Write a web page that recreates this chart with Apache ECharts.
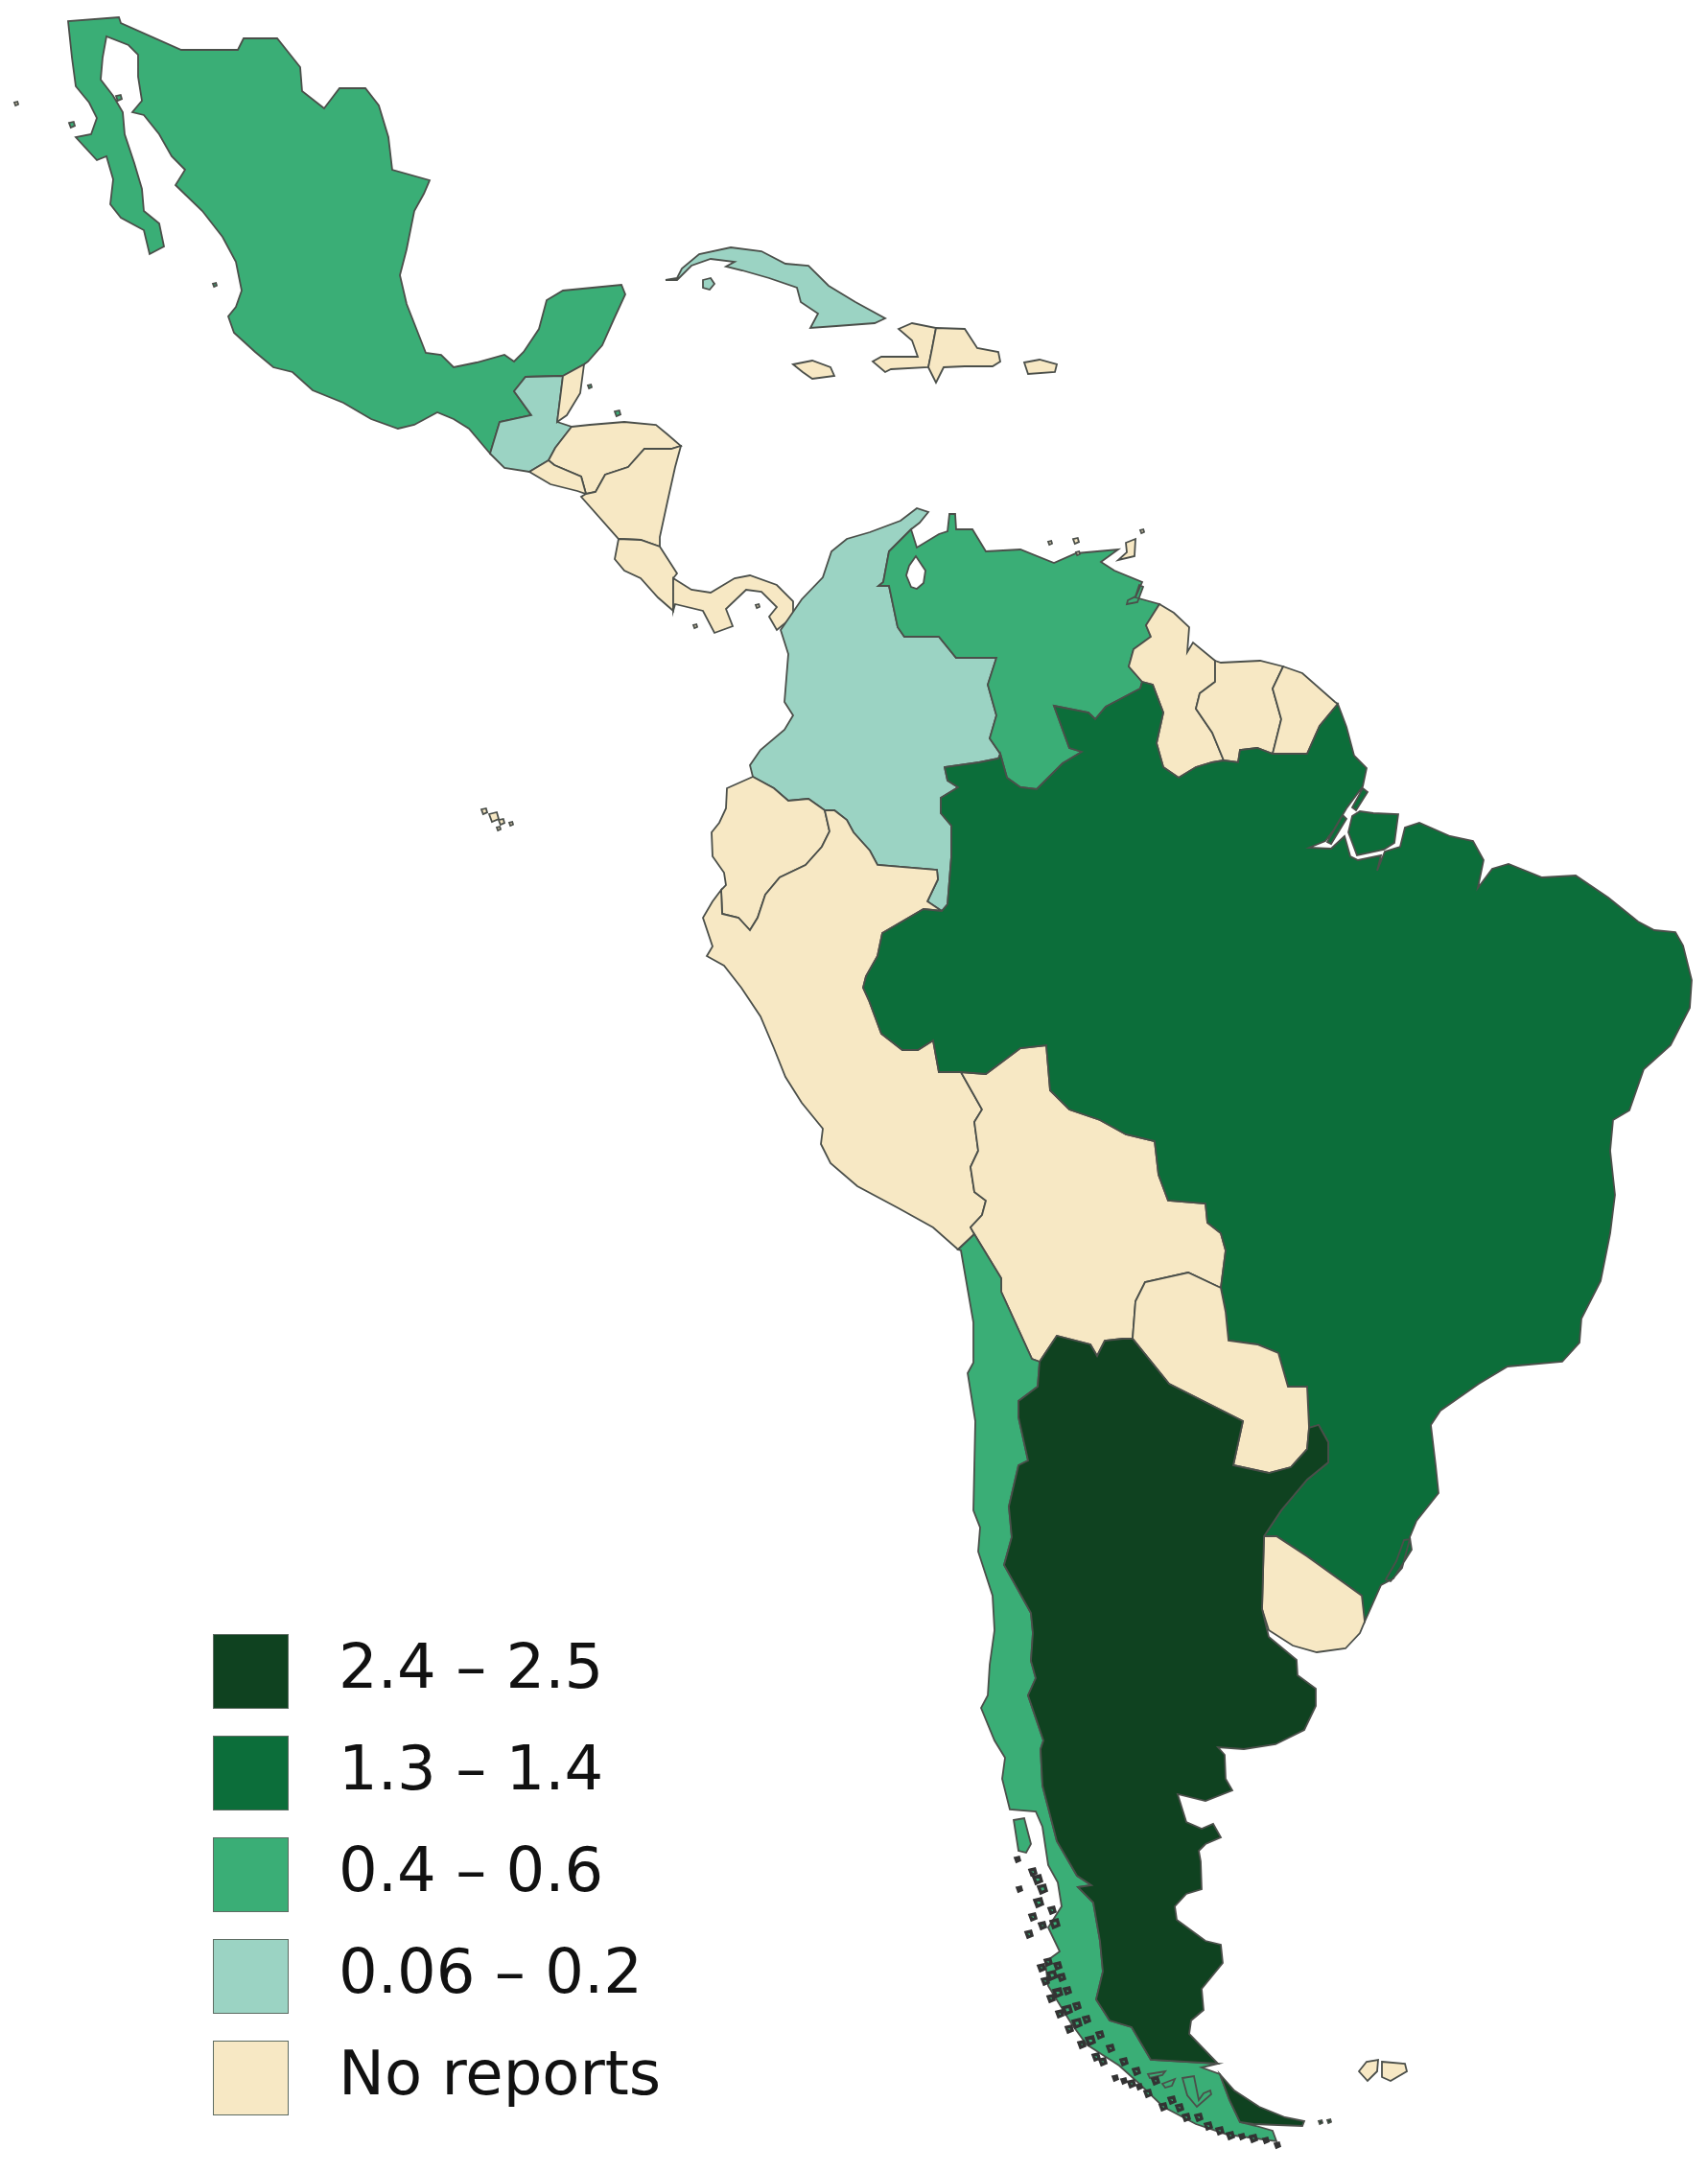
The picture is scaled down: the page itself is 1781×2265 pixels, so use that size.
<!DOCTYPE html>
<html>
<head>
<meta charset="utf-8">
<title>Latin America map</title>
<script src="https://cdn.jsdelivr.net/npm/echarts@6/dist/echarts.min.js"></script>
<style>
	html, body { margin: 0; padding: 0; background: #fff; }
	#js-map { width: 1781px; height: 2265px; }
</style>
</head>
<body>
<div id="js-map"></div>
<script>
// class of each country, read from the map colours (mid value of its legend class, -1 = no reports)
var countries = ['Mexico','Guatemala','Belize','Honduras','El Salvador','Nicaragua','Costa Rica','Panama','Cuba','Haiti','Dominican Republic','Jamaica','Puerto Rico','Colombia','Venezuela','Guyana','Suriname','French Guiana','Ecuador','Peru','Bolivia','Brazil','Paraguay','Uruguay','Chile','Argentina','Islands','Chilean islets'];
var values = [0.5,0.1,-1,-1,-1,-1,-1,-1,0.1,-1,-1,-1,-1,0.1,0.5,-1,-1,-1,-1,-1,-1,1.35,-1,-1,0.5,2.45,-1,0.5];

var legendLabels = ['No reports','0.06 – 0.2','0.4 – 0.6','1.3 – 1.4','2.4 – 2.5'];
var legendMin = [-2,0.06,0.4,1.3,2.4];
var legendMax = [0,0.2,0.6,1.4,2.5];
var legendColors = ['#f7e8c4','#9bd3c3','#3aae76','#0c6e3a','#0f4220'];

// outlines, in reference pixels. borders shared by two countries are kept once
var mexCoast = [[511,473],[489,447],[473,437],[456,430],[432,443],[415,447],[387,437],[358,420],[326,407],[305,388],[285,383],[266,367],[244,347],[238,330],[246,320],[252,303],[246,273],[232,247],[211,220],[183,193],[193,177],[179,163],[166,140],[150,120],[138,117],[148,105],[144,80],[144,57],[134,47],[111,38],[107,60],[105,83],[118,100],[128,117],[130,140],[140,170],[148,197],[150,220],[166,233],[171,257],[156,265],[150,240],[126,227],[115,213],[118,187],[111,163],[101,167],[79,143],[95,140],[101,123],[93,107],[79,90],[75,60],[71,22],[124,18],[126,24],[189,52],[248,52],[254,40],[289,40],[313,70],[315,95],[338,113],[354,92],[381,92],[395,110],[405,143],[409,177],[448,188],[442,202],[432,220],[424,260],[417,287],[424,317],[444,368],[460,370],[473,383],[497,378],[526,370],[536,377],[546,367],[562,343],[570,313],[587,303],[648,297],[652,307],[640,333],[628,360],[613,377],[609,380]];
var bMexBel = [[609,380],[587,392]];
var bMexGua = [[587,392],[548,393],[536,408],[554,433],[521,440],[511,473]];
var gtmCoast = [[511,473],[526,488],[552,492]];
var bGuaSlv = [[552,492],[572,480]];
var bGuaHnd = [[572,480],[579,467],[596,445]];
var bGuaBel = [[596,445],[581,440],[587,392]];
var belCoast = [[581,440],[591,433],[605,410],[609,380]];
var hndCoast = [[596,445],[615,443],[651,440],[684,443],[696,453],[710,465]];
var bHndNic = [[710,465],[700,468],[672,468],[655,487],[631,495],[621,513],[611,515]];
var bHndSlv = [[611,515],[606,497],[578,485],[572,480]];
var slvCoast = [[552,492],[574,505],[602,512],[611,515]];
var nicCoast = [[710,465],[704,487],[696,523],[688,560],[688,570]];
var bNicCri = [[688,570],[668,563],[645,562]];
var nicPacific = [[645,562],[606,518],[611,515]];
var criPacific = [[645,562],[641,583],[651,595],[668,603],[686,623],[702,637]];
var bCriPan = [[702,637],[702,603]];
var criCaribbean = [[702,603],[706,598],[688,570]];
var panCoast = [[702,603],[721,615],[741,618],[766,603],[782,600],[810,610],[827,627],[827,643],[810,657],[802,643],[810,633],[794,617],[778,615],[757,635],[764,653],[745,660],[733,637],[704,630],[702,637]];

var colCoast = [[814,657],[836,625],[858,602],[867,575],[883,562],[907,555],[939,543],[956,530],[968,534],[959,545],[950,552]];
var bColVen = [[950,552],[927,575],[921,607],[916,611],[927,611],[936,654],[943,664],[979,664],[997,686],[1039,686],[1030,714],[1039,746],[1032,770],[1043,786]];
var bColBra = [[1043,786],[1041,791],[1021,795],[985,800],[988,814],[999,821],[981,832],[981,848],[992,861],[992,893],[988,943]];
var bColPer = [[988,943],[982,950],[967,940],[978,917],[977,907],[915,902],[907,887],[890,868],[883,855],[870,845],[860,845]];
var bColEcu = [[860,845],[843,833],[822,835],[807,822],[785,810]];
var colPacific = [[785,810],[782,798],[793,782],[818,761],[827,746],[818,732],[822,682],[814,657]];
var venCoast = [[950,552],[956,571],[979,557],[988,554],[990,536],[996,536],[997,552],[1014,552],[1028,575],[1064,573],[1099,587],[1122,577],[1166,573],[1148,586],[1162,595],[1191,607],[1184,623],[1209,630]];
var bVenGuy = [[1209,630],[1195,652],[1200,664],[1182,677],[1177,695],[1191,711]];
var bVenBra = [[1191,711],[1189,718],[1153,737],[1142,750],[1135,743],[1099,736],[1115,780],[1128,784],[1108,796],[1081,823],[1064,821],[1050,811],[1043,786]];
var lakeMaracaibo = [[955,580],[948,590],[945,600],[950,612],[956,614],[963,608],[965,595]];
var guyCoast = [[1209,630],[1224,639],[1240,654],[1238,680],[1244,670],[1267,689]];
var bGuySur = [[1267,689],[1267,711],[1251,723],[1247,739],[1264,764],[1276,793]];
var bGuyBra = [[1276,793],[1264,795],[1247,800],[1229,811],[1213,800],[1206,775],[1213,743],[1202,714],[1191,711]];
var surCoast = [[1267,689],[1273,691],[1314,689],[1338,695]];
var bSurFgu = [[1338,695],[1327,718],[1336,750],[1327,786]];
var bSurBra = [[1327,786],[1311,780],[1293,782],[1291,795],[1276,793]];
var fguCoast = [[1338,695],[1358,702],[1392,732],[1395,734]];
var bFguBra = [[1395,734],[1376,757],[1363,786],[1327,786]];

var ecuCoast = [[785,810],[758,822],[757,843],[750,858],[742,868],[743,893],[755,910],[757,923],[752,928]];
var bEcuPer = [[752,928],[753,953],[770,957],[782,970],[790,957],[798,933],[813,915],[840,902],[857,883],[865,867],[860,845]];
var perCoast = [[752,928],[743,940],[733,957],[743,987],[737,997],[755,1007],[773,1030],[793,1060],[807,1093],[819,1123],[836,1150],[858,1177],[856,1193],[866,1213],[894,1237],[937,1260],[973,1280],[999,1303]];
var bPerChl = [[999,1303],[1016,1287]];
var bPerBol = [[1016,1287],[1012,1280],[1024,1267],[1028,1252],[1016,1243],[1012,1217],[1020,1200],[1016,1170],[1024,1157],[1002,1118]];
var bPerBra = [[1002,1118],[979,1118],[973,1085],[957,1095],[941,1095],[919,1078],[906,1043],[900,1030],[903,1018],[915,997],[920,973],[963,948],[982,950]];
var bBolBra = [[1002,1118],[1028,1120],[1064,1093],[1091,1090],[1095,1137],[1115,1157],[1147,1168],[1174,1183],[1204,1190],[1208,1225],[1218,1252],[1257,1255],[1259,1275],[1273,1286],[1278,1304],[1273,1343]];
var bBolPar = [[1273,1343],[1239,1327],[1194,1337],[1184,1357],[1181,1396]];
var bBolArg = [[1181,1396],[1171,1396],[1152,1398],[1144,1414],[1137,1402],[1102,1393],[1084,1420]];
var bBolChl = [[1084,1420],[1076,1417],[1044,1347],[1044,1333],[1016,1287]];
var bParBra = [[1273,1343],[1278,1368],[1281,1398],[1311,1402],[1333,1411],[1343,1446],[1363,1446],[1365,1489]];
var bParArg = [[1365,1489],[1363,1511],[1346,1530],[1323,1536],[1286,1528],[1296,1482],[1219,1443],[1181,1396]];
var bArgBra = [[1365,1489],[1375,1486],[1385,1504],[1385,1525],[1363,1543],[1336,1575],[1318,1602]];
var bUryBra = [[1318,1602],[1331,1602],[1363,1623],[1420,1664],[1423,1691]];
var uryCoast = [[1423,1691],[1418,1703],[1403,1719],[1373,1723],[1348,1716],[1323,1700],[1316,1678],[1318,1602]];
var braNorth = [[1395,734],[1404,758],[1412,788],[1425,801],[1421,820],[1404,843],[1391,865],[1382,877],[1365,884],[1388,885],[1402,872],[1408,893],[1416,897],[1440,892],[1436,908],[1444,888],[1460,883],[1465,863],[1480,858],[1512,872],[1536,877],[1547,897],[1541,926],[1556,906],[1573,901],[1608,915],[1643,913],[1677,936],[1708,961],[1725,970],[1747,972],[1755,986],[1764,1022],[1762,1051],[1742,1090],[1714,1115],[1699,1158],[1682,1168],[1679,1200],[1684,1246],[1679,1286],[1669,1336],[1649,1375],[1647,1400],[1629,1420],[1572,1425],[1542,1443],[1502,1471],[1492,1486],[1497,1528],[1500,1557],[1477,1586],[1470,1603],[1472,1616],[1453,1646],[1440,1653],[1423,1691]];
var marajo = [[1410,851],[1418,846],[1432,848],[1458,849],[1454,879],[1443,886],[1415,892],[1406,868]];
var dosPatos = [[1464,1606],[1470,1605],[1462,1635],[1450,1649],[1445,1647],[1456,1628]];

var bChlArg = [[1084,1420],[1082,1446],[1062,1461],[1062,1478],[1072,1523],[1062,1528],[1052,1571],[1055,1603],[1047,1632],[1075,1682],[1077,1703],[1075,1732],[1080,1750],[1072,1768],[1088,1815],[1085,1824],[1087,1862],[1102,1920],[1123,1956],[1138,1966],[1124,1968],[1140,1984],[1147,2024],[1150,2056],[1143,2085],[1157,2107],[1180,2114],[1200,2148],[1270,2152]];
var chlSouth = [[1270,2152],[1253,2156],[1272,2163],[1282,2190],[1293,2213],[1310,2217],[1327,2222],[1331,2233],[1280,2226],[1247,2215],[1213,2197],[1187,2172],[1167,2154],[1133,2132],[1117,2110],[1093,2071],[1090,2046],[1105,2035],[1093,2010],[1107,1988],[1103,1963],[1093,1945],[1087,1905],[1080,1889],[1053,1887],[1045,1855],[1048,1833],[1037,1815],[1023,1781],[1030,1768],[1032,1736],[1037,1700],[1035,1664],[1020,1618],[1022,1593],[1015,1575],[1017,1482],[1009,1432],[1015,1421],[1015,1379],[1002,1304],[999,1303]];
var fjord1 = [[1233,2167],[1245,2165],[1250,2190],[1255,2183],[1262,2180],[1263,2184],[1248,2197],[1238,2185]];
var fjord2 = [[1212,2173],[1225,2168],[1222,2175],[1215,2177]];
var fjord3 = [[1197,2163],[1215,2160],[1212,2164],[1199,2167]];
var chiloe = [[1057,1898],[1068,1896],[1075,1923],[1070,1932],[1062,1930]];
var argAtlantic = [[1270,2152],[1240,2121],[1242,2107],[1255,2096],[1253,2074],[1275,2047],[1273,2028],[1257,2024],[1227,2002],[1225,1988],[1237,1975],[1253,1970],[1252,1941],[1250,1930],[1257,1923],[1273,1916],[1265,1902],[1253,1907],[1237,1900],[1228,1871],[1257,1878],[1285,1867],[1278,1855],[1277,1830],[1270,1822],[1297,1824],[1330,1819],[1360,1804],[1372,1779],[1372,1761],[1353,1747],[1352,1731],[1323,1707],[1316,1678],[1318,1602]];
var argFuego = [[1272,2163],[1287,2180],[1313,2197],[1340,2208],[1360,2212],[1358,2217],[1307,2215],[1293,2213],[1282,2190]];

var cuba = [[694,292],[706,290],[711,280],[729,265],[762,258],[794,262],[819,275],[843,277],[864,298],[892,315],[923,332],[912,337],[872,340],[845,342],[853,327],[835,315],[831,300],[802,290],[774,282],[757,278],[766,273],[741,270],[721,277],[706,292]];
var isleOfYouth = [[733,292],[741,290],[745,296],[740,302],[733,300]];
var haiti = [[937,343],[951,337],[976,342],[972,363],[968,383],[929,385],[923,388],[910,377],[919,372],[957,372],[951,355]];
var dominican = [[976,342],[1006,343],[1019,363],[1041,367],[1043,377],[1035,382],[1006,382],[984,383],[976,399],[968,383],[972,363]];
var jamaica = [[827,380],[847,376],[866,383],[870,392],[847,395],[837,388]];
var puertoRico = [[1068,378],[1084,375],[1102,380],[1100,388],[1072,390]];
var trinidad = [[1174,566],[1184,562],[1183,580],[1166,584],[1175,576]];
var falkland1 = [[1417,2160],[1425,2150],[1437,2148],[1436,2160],[1426,2170]];
var falkland2 = [[1441,2150],[1465,2152],[1467,2160],[1450,2170],[1441,2166]];
var orinoco = [[1188,610],[1192,612],[1186,628],[1175,630],[1176,626],[1184,622]];
var amazonIslets = [[[1421,822],[1426,826],[1414,845],[1410,842]],[[1400,850],[1404,854],[1388,880],[1384,878]]];

// small islands: x, y, radius
var mexIslets = [[124,102,3],[75,130,3],[224,297,2],[615,403,2],[644,431,3]];
var otherIslets = [[17,108,2],[790,632,2],[725,653,2],[1095,566,2],[1122,564,3],[1191,554,2],[1124,577,2],[505,846,3],[515,852,5],[523,857,3],[520,864,2],[533,859,2]];
var chileIslets = [[1061,1939,2],[1077,1952,3],[1082,1960,4],[1087,1970,4],[1063,1970,2],[1083,1984,4],[1097,1992,3],[1077,1999,3],[1100,2006,4],[1073,2017,3],[1087,2008,3],
	[1093,2046,3],[1086,2052,3],[1103,2050,3],[1097,2060,4],[1090,2066,3],[1107,2062,3],[1103,2078,4],[1096,2084,3],[1113,2076,3],[1113,2096,4],[1105,2100,3],[1123,2092,3],[1123,2110,4],[1115,2116,3],[1133,2106,3],[1137,2128,4],[1128,2132,3],[1147,2122,3],[1143,2145,3],[1150,2150,3],[1158,2136,3],
	[1163,2167,2],[1172,2170,2],[1180,2173,3],[1188,2176,2],[1172,2150,3],[1185,2160,3],[1197,2183,3],[1205,2170,3],[1213,2197,3],[1222,2190,3],[1237,2208,3],[1230,2198,3],[1260,2217,3],[1250,2208,3],[1272,2222,3],[1283,2227,3],[1295,2228,2],[1307,2230,3],[1320,2232,2],[1332,2237,2]];
var stateIsland = [[1377,2213,2],[1386,2212,2]];

function join() {
	var out = [];
	for (var i = 0; i < arguments.length; i++) {
		out = out.concat(arguments[i]);
	}
	return out;
}
function rev(line) {
	return line.slice().reverse();
}
function dots(list) {
	return list.map(function(d){
		var r = d[2];
		return [[[d[0]-r,d[1]-r*0.6],[d[0]+r*0.6,d[1]-r],[d[0]+r,d[1]+r*0.4],[d[0]-r*0.4,d[1]+r]]];
	});
}

var outlines = {
	'Mexico': [[join(mexCoast,bMexBel,bMexGua)]].concat(dots(mexIslets)),
	'Guatemala': [[join(gtmCoast,bGuaSlv,bGuaHnd,bGuaBel,bMexGua)]],
	'Belize': [[join(belCoast,bMexBel)]],
	'Honduras': [[join(hndCoast,bHndNic,bHndSlv,bGuaHnd)]],
	'El Salvador': [[join(slvCoast,bHndSlv,rev(bGuaSlv))]],
	'Nicaragua': [[join(nicCoast,bNicCri,nicPacific,rev(bHndNic))]],
	'Costa Rica': [[join(criPacific,bCriPan,criCaribbean,bNicCri)]],
	'Panama': [[panCoast]],
	'Cuba': [[cuba],[isleOfYouth]],
	'Haiti': [[haiti]],
	'Dominican Republic': [[dominican]],
	'Jamaica': [[jamaica]],
	'Puerto Rico': [[puertoRico]],
	'Colombia': [[join(colCoast,bColVen,bColBra,bColPer,bColEcu,colPacific)]],
	'Venezuela': [[join(venCoast,bVenGuy,bVenBra,rev(bColVen)),lakeMaracaibo],[orinoco]],
	'Guyana': [[join(guyCoast,bGuySur,bGuyBra,rev(bVenGuy))]],
	'Suriname': [[join(surCoast,bSurFgu,bSurBra,rev(bGuySur))]],
	'French Guiana': [[join(fguCoast,bFguBra,rev(bSurFgu))]],
	'Ecuador': [[join(ecuCoast,bEcuPer,bColEcu)]],
	'Peru': [[join(perCoast,bPerChl,bPerBol,bPerBra,bColPer.slice(2),rev(bEcuPer))]],
	'Bolivia': [[join(bBolBra,bBolPar,bBolArg,bBolChl,bPerBol)]],
	'Brazil': [[join(braNorth,rev(bUryBra),rev(bArgBra),rev(bParBra),rev(bBolBra),bPerBra,rev(bColBra),rev(bVenBra),rev(bGuyBra),rev(bSurBra),rev(bFguBra)),dosPatos],[marajo]].concat(amazonIslets.map(function(a){return [a];})),
	'Paraguay': [[join(bParBra,bParArg,rev(bBolPar))]],
	'Uruguay': [[join(bUryBra,uryCoast)]],
	'Chile': [[join(rev(bPerChl),rev(bBolChl),bChlArg,chlSouth),fjord1,fjord2,fjord3],[chiloe]],
	'Argentina': [[join(bChlArg,argAtlantic,rev(bArgBra),bParArg,bBolArg)],[argFuego]].concat(dots(stateIsland)),
	'Islands': [[trinidad],[falkland1],[falkland2]].concat(dots(otherIslets)),
	'Chilean islets': dots(chileIslets)
};

initMap();

function toGeoJson(){
	var features = countries.map(function(name){
		var polys = outlines[name].map(function(poly){
			return poly.map(function(ring){
				return ring.map(function(p){ return [p[0], -p[1]]; });
			});
		});
		return {
			type: 'Feature',
			properties: { name: name },
			geometry: { type: 'MultiPolygon', coordinates: polys }
		};
	});
	return { type: 'FeatureCollection', features: features };
}

function initMap(){
	echarts.registerMap('latam', toGeoJson());
	var chart = echarts.init(document.getElementById('js-map'));
	var option = {
		backgroundColor: '#fff',
		animation: false,
		visualMap: {
			type: 'piecewise',
			seriesIndex: 0,
			orient: 'vertical',
			left: 223,
			top: 1705,
			padding: 0,
			itemWidth: 77,
			itemHeight: 76,
			itemGap: 30,
			textGap: 53,
			itemSymbol: 'rect',
			selectedMode: false,
			hoverLink: false,
			textStyle: { fontFamily: 'DejaVu Sans', fontSize: 64, color: '#111' },
			pieces: legendLabels.map(function(label, i){
				return { min: legendMin[i], max: legendMax[i], label: label, color: legendColors[i] };
			})
		},
		graphic: legendLabels.map(function(label, i){
			return {
				type: 'rect',
				silent: true,
				shape: { x: 223, y: 1705 + i * 106, width: 77, height: 76 },
				style: { fill: 'none', stroke: '#5d6b62', lineWidth: 2 }
			};
		}),
		series: [{
			type: 'map',
			map: 'latam',
			silent: true,
			aspectScale: 1,
			boundingCoords: [[0, 0], [1781, -2265]],
			left: 0,
			top: 0,
			width: 1781,
			height: 2265,
			label: { show: false },
			itemStyle: { borderColor: '#4b4f4a', borderWidth: 1.8 },
			data: countries.map(function(name, i){
				var item = { name: name, value: values[i] };
				if (name == 'Chilean islets') {
					item.itemStyle = { borderColor: '#333', borderWidth: 3.4 };
				}
				return item;
			})
		}]
	};
	chart.setOption(option);
}
</script>
</body>
</html>
